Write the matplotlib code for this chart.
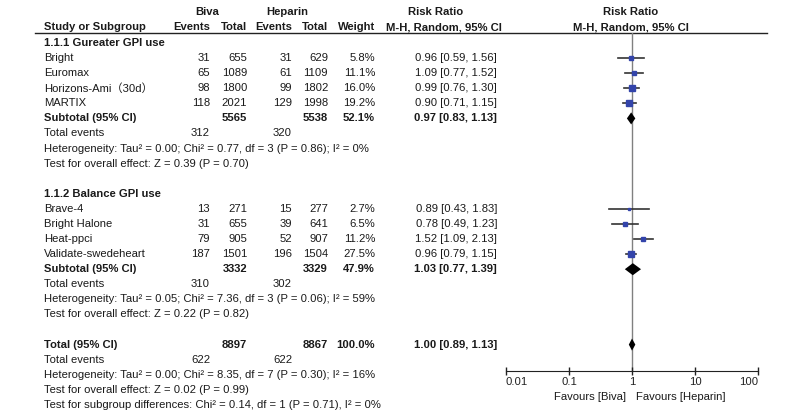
import numpy as np
import matplotlib.pyplot as plt

plt.rcParams['font.family'] = ['Liberation Sans', 'Noto Sans CJK SC']

# subgroup 1.1.1
g1_title = '1.1.1 Gureater GPI use'
g1_names = ['Bright', 'Euromax', 'Horizons-Ami（30d）', 'MARTIX']
g1_biva_ev = [31, 65, 98, 118]
g1_biva_n = [655, 1089, 1800, 2021]
g1_hep_ev = [31, 61, 99, 129]
g1_hep_n = [629, 1109, 1802, 1998]
g1_weight = [5.8, 11.1, 16.0, 19.2]
g1_rr = [0.96, 1.09, 0.99, 0.90]
g1_lo = [0.59, 0.77, 0.76, 0.71]
g1_hi = [1.56, 1.52, 1.30, 1.15]
g1_sub = [0.97, 0.83, 1.13]
g1_sub_n = [5565, 5538]
g1_sub_w = 52.1
g1_events = [312, 320]
g1_het = 'Heterogeneity: Tau² = 0.00; Chi² = 0.77, df = 3 (P = 0.86); I² = 0%'
g1_test = 'Test for overall effect: Z = 0.39 (P = 0.70)'

# subgroup 1.1.2
g2_title = '1.1.2 Balance GPI use'
g2_names = ['Brave-4', 'Bright Halone', 'Heat-ppci', 'Validate-swedeheart']
g2_biva_ev = [13, 31, 79, 187]
g2_biva_n = [271, 655, 905, 1501]
g2_hep_ev = [15, 39, 52, 196]
g2_hep_n = [277, 641, 907, 1504]
g2_weight = [2.7, 6.5, 11.2, 27.5]
g2_rr = [0.89, 0.78, 1.52, 0.96]
g2_lo = [0.43, 0.49, 1.09, 0.79]
g2_hi = [1.83, 1.23, 2.13, 1.15]
g2_sub = [1.03, 0.77, 1.39]
g2_sub_n = [3332, 3329]
g2_sub_w = 47.9
g2_events = [310, 302]
g2_het = 'Heterogeneity: Tau² = 0.05; Chi² = 7.36, df = 3 (P = 0.06); I² = 59%'
g2_test = 'Test for overall effect: Z = 0.22 (P = 0.82)'

# overall
tot = [1.00, 0.89, 1.13]
tot_n = [8897, 8867]
tot_w = 100.0
tot_events = [622, 622]
tot_het = 'Heterogeneity: Tau² = 0.00; Chi² = 8.35, df = 7 (P = 0.30); I² = 16%'
tot_test = 'Test for overall effect: Z = 0.02 (P = 0.99)'
sub_test = 'Test for subgroup differences: Chi² = 0.14, df = 1 (P = 0.71), I² = 0%'

ticks = [0.01, 0.1, 1, 10, 100]
tick_labels = ['0.01', '0.1', '1', '10', '100']

fs = 8.1
tc = '#1a1a1a'
y0, dy = 43, 15.08
cx = dict(name=44, bev=210, bn=247, hev=292, hn=328, w=375, rr=497)

fig = plt.figure(figsize=(8, 4.17), dpi=100)
ax = fig.add_axes([0, 0, 1, 1])
ax.set_xlim(0, 800)
ax.set_ylim(417, 0)
ax.axis('off')


def ypix(i):
    return y0 + dy * i


def txt(x, y, s, ha='left', bold=False):
    ax.text(x, y, s, ha=ha, va='center', fontsize=fs, color=tc,
            fontweight='bold' if bold else 'normal')


# headers
txt(207, 12, 'Biva', 'center', True)
txt(287, 12, 'Heparin', 'center', True)
txt(436, 12, 'Risk Ratio', 'center', True)
txt(631, 12, 'Risk Ratio', 'center', True)
txt(cx['name'], 27, 'Study or Subgroup', bold=True)
txt(cx['bev'], 27, 'Events', 'right', True)
txt(cx['bn'], 27, 'Total', 'right', True)
txt(cx['hev'], 27, 'Events', 'right', True)
txt(cx['hn'], 27, 'Total', 'right', True)
txt(cx['w'], 27, 'Weight', 'right', True)
txt(444, 27, 'M-H, Random, 95% CI', 'center', True)
txt(631, 27, 'M-H, Random, 95% CI', 'center', True)
ax.plot([35, 767], [33, 33], color='#222222', lw=1)

# forest axes
f_top, f_bot = 33, 371
fx = fig.add_axes([506 / 800, 1 - f_bot / 417, 252 / 800, (f_bot - f_top) / 417])
fx.set_xscale('log')
fx.set_xlim(0.01, 100)
fx.set_ylim((f_bot - y0) / dy, (f_top - y0) / dy)
for s in ['left', 'right', 'top']:
    fx.spines[s].set_visible(False)
fx.spines['bottom'].set_color('#222222')
fx.set_yticks([])
fx.set_xticks(ticks)
fx.set_xticklabels(tick_labels)
fx.minorticks_off()
fx.tick_params(axis='x', direction='inout', length=6, width=1, pad=1,
               labelsize=fs, colors='#222222')
labs = fx.get_xticklabels()
labs[0].set_horizontalalignment('left')
labs[-1].set_horizontalalignment('right')
fx.patch.set_alpha(0)
fx.axvline(1, color='#808080', lw=1, zorder=1)


def group(start, title, names, bev, bn, hev, hn, w, rr, lo, hi, sub, sub_n, sub_w, events, het, test):
    txt(cx['name'], ypix(start), title, bold=True)
    for k in range(len(names)):
        r = start + 1 + k
        y = ypix(r)
        txt(cx['name'], y, names[k])
        txt(cx['bev'], y, str(bev[k]), 'right')
        txt(cx['bn'], y, str(bn[k]), 'right')
        txt(cx['hev'], y, str(hev[k]), 'right')
        txt(cx['hn'], y, str(hn[k]), 'right')
        txt(cx['w'], y, '%.1f%%' % w[k], 'right')
        txt(cx['rr'], y, '%.2f [%.2f, %.2f]' % (rr[k], lo[k], hi[k]), 'right')
        fx.plot([lo[k], hi[k]], [r, r], color='#333333', lw=1.2, zorder=2)
        fx.plot(rr[k], r, marker='s', color='#3344aa', ms=0.95 * np.sqrt(w[k]),
                mec='#3344aa', zorder=3)
    r = start + 1 + len(names)
    summary(r, 'Subtotal (95% CI)', sub, sub_n, sub_w)
    txt(cx['name'], ypix(r + 1), 'Total events')
    txt(cx['bev'], ypix(r + 1), str(events[0]), 'right')
    txt(cx['hev'], ypix(r + 1), str(events[1]), 'right')
    txt(cx['name'], ypix(r + 2), het)
    txt(cx['name'], ypix(r + 3), test)


def summary(r, label, est, n, w):
    y = ypix(r)
    txt(cx['name'], y, label, bold=True)
    txt(cx['bn'], y, str(n[0]), 'right', True)
    txt(cx['hn'], y, str(n[1]), 'right', True)
    txt(cx['w'], y, '%.1f%%' % w, 'right', True)
    txt(cx['rr'], y, '%.2f [%.2f, %.2f]' % tuple(est), 'right', True)
    h = 0.4
    fx.fill([est[1], est[0], est[2], est[0]], [r, r - h, r, r + h],
            color='black', lw=0, zorder=4)


group(0, g1_title, g1_names, g1_biva_ev, g1_biva_n, g1_hep_ev, g1_hep_n, g1_weight,
      g1_rr, g1_lo, g1_hi, g1_sub, g1_sub_n, g1_sub_w, g1_events, g1_het, g1_test)
group(10, g2_title, g2_names, g2_biva_ev, g2_biva_n, g2_hep_ev, g2_hep_n, g2_weight,
      g2_rr, g2_lo, g2_hi, g2_sub, g2_sub_n, g2_sub_w, g2_events, g2_het, g2_test)

summary(20, 'Total (95% CI)', tot, tot_n, tot_w)
txt(cx['name'], ypix(21), 'Total events')
txt(cx['bev'], ypix(21), str(tot_events[0]), 'right')
txt(cx['hev'], ypix(21), str(tot_events[1]), 'right')
txt(cx['name'], ypix(22), tot_het)
txt(cx['name'], ypix(23), tot_test)
txt(cx['name'], ypix(24), sub_test)

txt(626, 397, 'Favours [Biva]', 'right')
txt(636, 397, 'Favours [Heparin]')

fig.savefig('out.png', dpi=100)
